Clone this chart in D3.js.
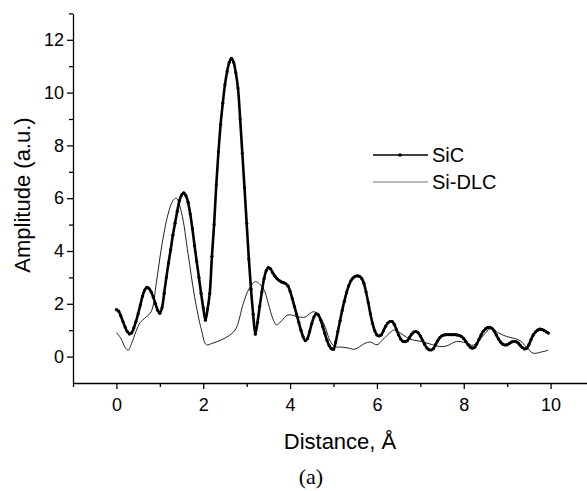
<!DOCTYPE html>
<html>
<head>
<meta charset="utf-8">
<script src="https://cdn.jsdelivr.net/npm/d3@7"></script>
<style>
  body { margin: 0; background: #fff; }
  svg { display: block; }
</style>
</head>
<body>
<div id="chart"></div>
<script>
// SiC amplitude, sampled every 0.05 Å from 0 to 9.95
const sicStep = 0.05;
const sicAmp = [
  1.78, 1.72, 1.55, 1.33, 1.12, 0.95, 0.86, 0.90, 1.08, 1.33,
  1.62, 1.95, 2.28, 2.52, 2.62, 2.58, 2.45, 2.25, 2.00, 1.76,
  1.64, 1.85, 2.40, 3.00, 3.55, 4.05, 4.60, 5.05, 5.50, 5.90,
  6.12, 6.20, 6.10, 5.85, 5.40, 4.85, 4.20, 3.60, 3.00, 2.40,
  1.85, 1.38, 1.80, 2.40, 3.80, 5.00, 6.50, 7.75, 8.80, 9.60,
  10.30, 10.80, 11.15, 11.30, 11.15, 10.75, 10.17, 9.00, 7.70, 6.40,
  5.05, 3.70, 2.55, 1.60, 0.85, 1.30, 1.90, 2.45, 2.95, 3.25,
  3.37, 3.32, 3.18, 3.05, 2.95, 2.88, 2.83, 2.80, 2.76, 2.68,
  2.48, 2.20, 1.90, 1.60, 1.30, 1.00, 0.75, 0.60, 0.68, 0.95,
  1.25, 1.50, 1.62, 1.58, 1.40, 1.15, 0.88, 0.62, 0.42, 0.30,
  0.28, 0.55, 0.95, 1.35, 1.75, 2.10, 2.42, 2.68, 2.87, 2.98,
  3.04, 3.06, 3.04, 2.96, 2.78, 2.45, 2.05, 1.62, 1.25, 0.98,
  0.82, 0.78, 0.82, 0.98, 1.15, 1.27, 1.33, 1.33, 1.22, 1.02,
  0.82, 0.66, 0.58, 0.57, 0.60, 0.72, 0.85, 0.93, 0.95, 0.90,
  0.78, 0.62, 0.46, 0.33, 0.26, 0.25, 0.30, 0.45, 0.60, 0.72,
  0.79, 0.82, 0.83, 0.83, 0.83, 0.83, 0.83, 0.82, 0.80, 0.76,
  0.68, 0.57, 0.45, 0.36, 0.32, 0.35, 0.48, 0.65, 0.82, 0.96,
  1.05, 1.10, 1.11, 1.07, 0.97, 0.82, 0.67, 0.55, 0.47, 0.44,
  0.45, 0.50, 0.55, 0.58, 0.57, 0.52, 0.43, 0.34, 0.29, 0.32,
  0.45, 0.65, 0.82, 0.93, 1.00, 1.04, 1.03, 0.99, 0.94, 0.89
];

// Si-DLC read at uneven distances
const dlcDist = [
  0, 0.1, 0.2, 0.27, 0.35, 0.45, 0.55, 0.65, 0.8, 0.92,
  1.04, 1.19, 1.3, 1.38, 1.5, 1.65, 1.8, 1.96, 2.07, 2.2,
  2.4, 2.6, 2.75, 2.92, 3.05, 3.2, 3.38, 3.5, 3.6, 3.69,
  3.8, 3.95, 4.2, 4.35, 4.53, 4.65, 4.8, 4.92, 5.03, 5.2,
  5.35, 5.49, 5.72, 5.85, 6.0, 6.2, 6.41, 6.6, 6.76, 7.0,
  7.22, 7.45, 7.6, 7.83, 8.05, 8.22, 8.4, 8.62, 8.8, 8.99,
  9.14, 9.3, 9.45, 9.6, 9.8, 9.95
];
const dlcAmp = [
  0.91, 0.70, 0.35, 0.24, 0.50, 0.95, 1.30, 1.45, 1.70, 2.80,
  4.15, 5.40, 5.90, 6.00, 5.45, 3.90, 2.27, 1.00, 0.45, 0.50,
  0.62, 0.80, 1.05, 2.00, 2.55, 2.84, 2.59, 2.00, 1.45, 1.20,
  1.35, 1.58, 1.50, 1.50, 1.70, 1.60, 1.15, 0.60, 0.38, 0.36,
  0.32, 0.28, 0.50, 0.55, 0.45, 0.75, 1.01, 0.82, 0.66, 0.58,
  0.48, 0.38, 0.40, 0.57, 0.52, 0.43, 0.70, 1.06, 0.90, 0.76,
  0.70, 0.60, 0.35, 0.13, 0.18, 0.24
];

const xMajor = [0, 2, 4, 6, 8, 10];
const xMinor = [-1, 1, 3, 5, 7, 9];
const yMajor = [0, 2, 4, 6, 8, 10, 12];
const yMinor = [1, 3, 5, 7, 9, 11, 13];

const width = 587, height = 491;
const svg = d3.select("#chart").append("svg")
  .attr("width", width).attr("height", height);

const x = d3.scaleLinear().domain([-1, 11]).range([73, 594]);
const y = d3.scaleLinear().domain([-1, 13]).range([383, 13.4]);

const sic = sicAmp.map((v, i) => [i * sicStep, v]);
const dlc = dlcDist.map((d, i) => [d, dlcAmp[i]]);

const line = d3.line()
  .x(d => x(d[0]))
  .y(d => y(d[1]))
  .curve(d3.curveCatmullRom.alpha(0.5));

// axes
const font = '"Liberation Sans", Arial, sans-serif';
svg.append("g")
  .attr("transform", `translate(0,${y(-1)})`)
  .call(d3.axisBottom(x).tickValues(xMinor).tickSize(4).tickFormat(""))
  .call(g => g.select(".domain").remove());
svg.append("g")
  .attr("transform", `translate(0,${y(-1)})`)
  .call(d3.axisBottom(x).tickValues(xMajor).tickSize(6).tickPadding(9).tickSizeOuter(0))
  .call(g => g.selectAll("text").attr("font-size", 18).attr("font-family", font).attr("fill", "#000"));

svg.append("g")
  .attr("transform", `translate(${x(-1)},0)`)
  .call(d3.axisLeft(y).tickValues(yMinor).tickSize(4).tickFormat(""))
  .call(g => g.select(".domain").remove());
svg.append("g")
  .attr("transform", `translate(${x(-1)},0)`)
  .call(d3.axisLeft(y).tickValues(yMajor).tickSize(6).tickPadding(3).tickSizeOuter(0))
  .call(g => g.selectAll("text").attr("font-size", 18).attr("font-family", font).attr("fill", "#000"));

svg.selectAll(".tick line, .domain").attr("stroke-width", 1.3);

// axis titles
svg.append("text")
  .attr("transform", `translate(30,${195}) rotate(-90)`)
  .attr("text-anchor", "middle")
  .attr("font-family", font).attr("font-size", 22)
  .text("Amplitude (a.u.)");
svg.append("text")
  .attr("x", 340).attr("y", 449)
  .attr("text-anchor", "middle")
  .attr("font-family", font).attr("font-size", 22)
  .text("Distance, Å");
svg.append("text")
  .attr("x", 311).attr("y", 484)
  .attr("text-anchor", "middle")
  .attr("font-family", '"Liberation Serif", "Times New Roman", serif').attr("font-size", 22)
  .text("(a)");

// curves
svg.append("path")
  .datum(dlc)
  .attr("fill", "none").attr("stroke", "#222").attr("stroke-width", 1)
  .attr("d", line);

svg.append("path")
  .datum(sic)
  .attr("fill", "none").attr("stroke", "#000").attr("stroke-width", 2.6)
  .attr("d", line);

svg.append("g")
  .selectAll("circle")
  .data(sic)
  .join("circle")
  .attr("cx", d => x(d[0])).attr("cy", d => y(d[1]))
  .attr("r", 1.6).attr("fill", "#000");

// legend
const legend = svg.append("g").attr("font-family", font).attr("font-size", 20);
legend.append("line").attr("x1", 373).attr("x2", 428).attr("y1", 155).attr("y2", 155)
  .attr("stroke", "#000").attr("stroke-width", 1.4);
legend.append("circle").attr("cx", 400).attr("cy", 155).attr("r", 1.8).attr("fill", "#000");
legend.append("text").attr("x", 432).attr("y", 155).attr("dy", "0.35em").text("SiC");
legend.append("line").attr("x1", 373).attr("x2", 428).attr("y1", 182).attr("y2", 182)
  .attr("stroke", "#777").attr("stroke-width", 1);
legend.append("text").attr("x", 432).attr("y", 182).attr("dy", "0.35em").text("Si-DLC");
</script>
</body>
</html>
